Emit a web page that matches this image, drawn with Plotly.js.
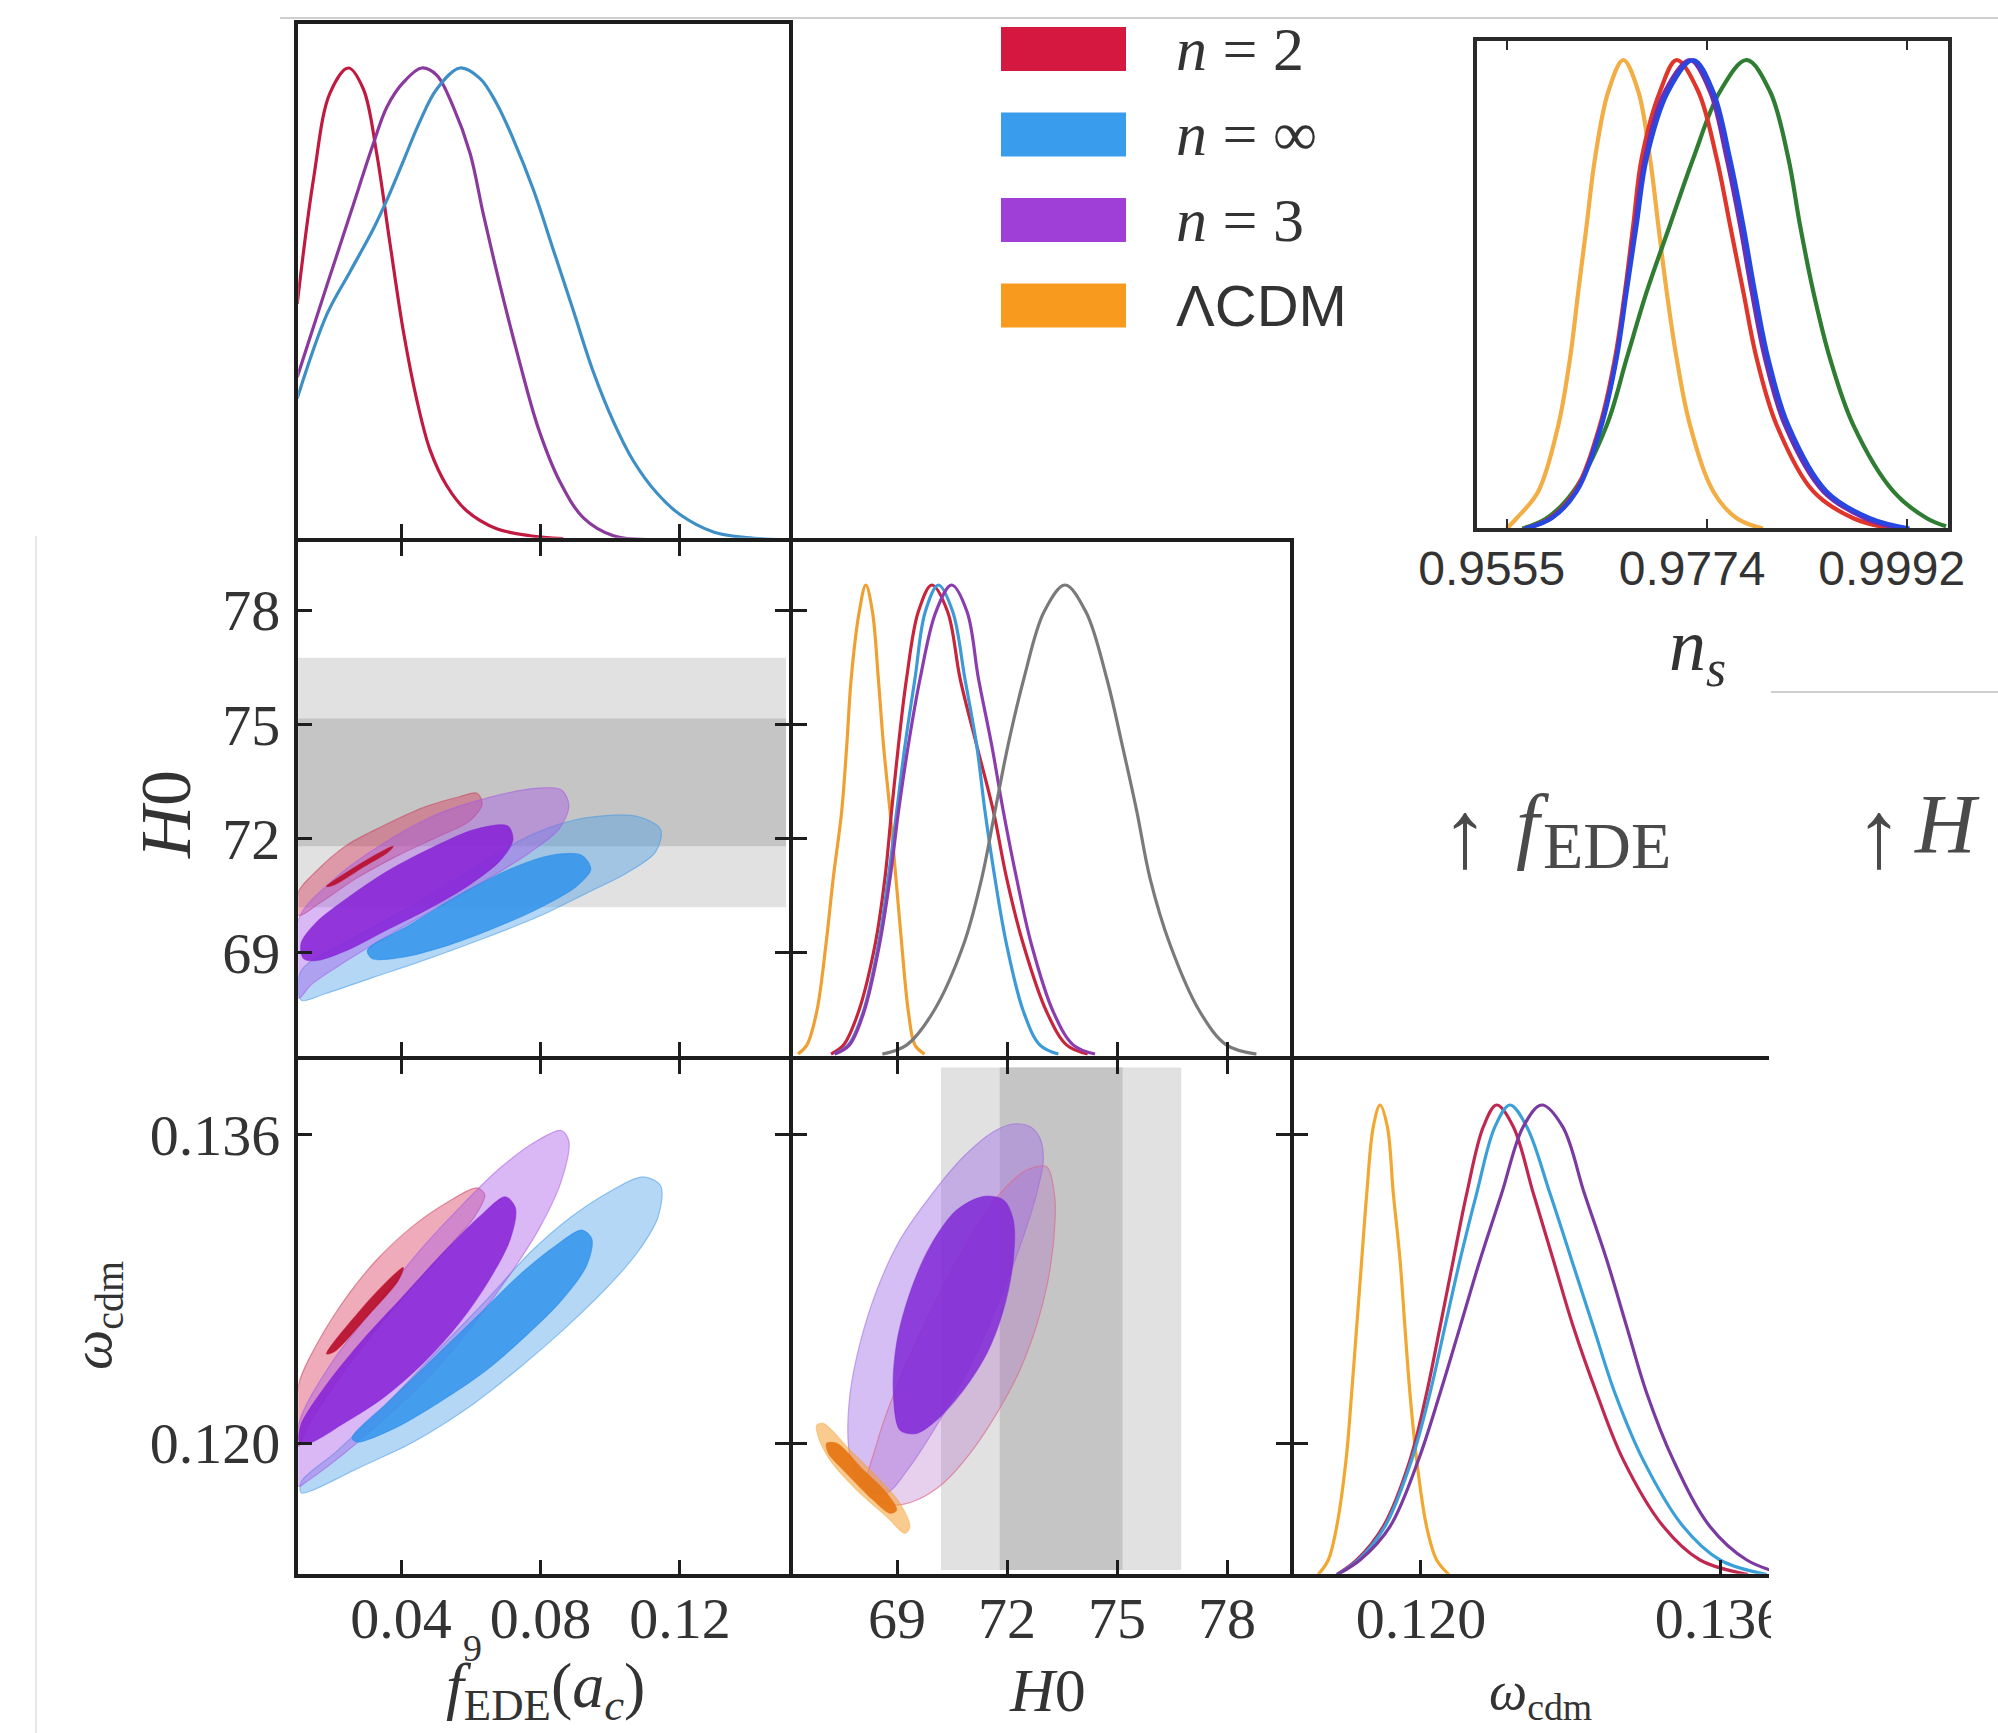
<!DOCTYPE html>
<html>
<head>
<meta charset="utf-8">
<script src="https://cdn.plot.ly/plotly-3.0.1.min.js"></script>
<style>
html,body{margin:0;padding:0;background:#ffffff;}
#chart{width:1998px;height:1733px;}
</style>
</head>
<body>
<div id="chart"></div>
<script>
// ---------------- DATA ----------------
const fedeTicks = [0.04, 0.08, 0.12];
const fedeTickText = ['0.04', '0.08', '0.12'];
const h0Ticks = [69, 72, 75, 78];
const h0TickText = ['69', '72', '75', '78'];
const wTicks = [0.120, 0.136];
const wTickText = ['0.120', '0.136'];
const nsTicks = [0.9555, 0.9774, 0.9992];
const nsTickText = ['0.9555', '0.9774', '0.9992'];

const legendLabels = ['<i>n</i> = 2', '<i>n</i> = ∞', '<i>n</i> = 3', 'ΛCDM'];
const legendColors = ['#d4183f', '#3a9cec', '#a03fd8', '#f89a1e'];

// SH0ES H0 bands (1 and 2 sigma) and the extent over which they are drawn
const shoesInner = [71.8, 75.15];
const shoesOuter = [70.2, 76.75];
const bandFede = [0.0098, 0.1504];
const bandWcdm = [0.1134, 0.1395];

// 1D posterior of f_EDE (top-left)
const fede_n2_x = [0.0102, 0.0149, 0.0196, 0.0249, 0.0292, 0.0330, 0.0368, 0.0407, 0.0445, 0.0483, 0.0531, 0.0588, 0.0674, 0.0770, 0.0865];
const fede_n2_p = [0.500, 0.766, 0.947, 1.0, 0.955, 0.819, 0.629, 0.440, 0.297, 0.191, 0.115, 0.062, 0.024, 0.009, 0.003];
const fede_n3_x = [0.0102, 0.0187, 0.0254, 0.0321, 0.0359, 0.0407, 0.0459, 0.0502, 0.0550, 0.0598, 0.0636, 0.0684, 0.0736, 0.0794, 0.0856, 0.0923, 0.1009, 0.1104];
const fede_n3_p = [0.345, 0.539, 0.690, 0.841, 0.917, 0.970, 1.0, 0.985, 0.917, 0.819, 0.690, 0.539, 0.388, 0.236, 0.123, 0.047, 0.009, 0.001];
const fede_ninf_x = [0.0102, 0.0187, 0.0254, 0.0321, 0.0359, 0.0407, 0.0454, 0.0502, 0.0569, 0.0626, 0.0674, 0.0722, 0.0779, 0.0837, 0.0894, 0.0951, 0.1009, 0.1066, 0.1133, 0.1200, 0.1296, 0.1391, 0.1487];
const fede_ninf_p = [0.300, 0.478, 0.569, 0.660, 0.720, 0.804, 0.887, 0.955, 1.0, 0.978, 0.925, 0.849, 0.743, 0.614, 0.486, 0.357, 0.251, 0.168, 0.100, 0.054, 0.017, 0.005, 0.001];

// 2D: H0 vs f_EDE (middle-left)
const hf_n2_outer_f = [0.01061, 0.01572, 0.02449, 0.03475, 0.04645, 0.05669, 0.06179, 0.06325, 0.05961, 0.05084, 0.03914, 0.02741, 0.01718, 0.01061];
const hf_n2_outer_h = [70.61, 71.15, 71.83, 72.33, 72.82, 73.10, 73.19, 72.91, 72.46, 72.06, 71.56, 70.97, 70.34, 69.98];
const hf_n2_inner_f = [0.01864, 0.02595, 0.03329, 0.03768, 0.03622, 0.02888, 0.02085];
const hf_n2_inner_h = [70.75, 71.20, 71.60, 71.80, 71.65, 71.24, 70.79];
const hf_n3_outer_f = [0.01061, 0.0201, 0.03329, 0.04937, 0.064, 0.07862, 0.08593, 0.08814, 0.08521, 0.07716, 0.06546, 0.0523, 0.03768, 0.02449, 0.01425, 0.01061];
const hf_n3_outer_h = [69.89, 70.88, 71.78, 72.60, 73.05, 73.32, 73.28, 72.87, 72.24, 71.65, 70.97, 70.29, 69.53, 68.80, 68.17, 67.81];
const hf_n3_inner_f = [0.01133, 0.01572, 0.02449, 0.03622, 0.04937, 0.06107, 0.07059, 0.07205, 0.06838, 0.05961, 0.04791, 0.03622, 0.02449, 0.01572, 0.01207];
const hf_n3_inner_h = [69.25, 69.80, 70.43, 71.15, 71.78, 72.24, 72.33, 71.97, 71.42, 70.79, 70.16, 69.62, 69.07, 68.80, 68.85];
const hf_ninf_outer_f = [0.01133, 0.02741, 0.04499, 0.064, 0.07862, 0.09324, 0.10789, 0.11446, 0.113, 0.10497, 0.09324, 0.08008, 0.064, 0.04791, 0.0318, 0.01864, 0.01133];
const hf_ninf_outer_h = [68.53, 69.44, 70.34, 71.42, 72.15, 72.55, 72.58, 72.24, 71.65, 71.11, 70.57, 69.98, 69.39, 68.85, 68.35, 67.94, 67.76];
const hf_ninf_inner_f = [0.03034, 0.04206, 0.05669, 0.07131, 0.083, 0.09178, 0.09442, 0.09032, 0.08008, 0.06692, 0.05376, 0.0406, 0.0318];
const hf_ninf_inner_h = [69.07, 69.71, 70.52, 71.20, 71.56, 71.56, 71.20, 70.75, 70.20, 69.66, 69.21, 68.89, 68.85];

// 1D posterior of H0 (centre)
const h0_lcdm_x = [66.30, 66.54, 66.81, 67.06, 67.26, 67.49, 67.63, 67.75, 67.97, 68.15, 68.33, 68.49, 68.63, 68.81, 68.97, 69.13, 69.31, 69.49, 69.75];
const h0_lcdm_p = [0.002, 0.021, 0.092, 0.234, 0.376, 0.518, 0.660, 0.801, 0.943, 1.0, 0.943, 0.801, 0.660, 0.518, 0.376, 0.234, 0.092, 0.021, 0.002];
const h0_n2_x = [67.20, 67.54, 67.95, 68.40, 68.67, 68.85, 69.04, 69.26, 69.58, 69.95, 70.38, 70.72, 71.17, 71.63, 71.99, 72.45, 73.08, 73.63, 74.20];
const h0_n2_p = [0.002, 0.021, 0.092, 0.234, 0.376, 0.518, 0.660, 0.801, 0.943, 1.0, 0.943, 0.801, 0.660, 0.518, 0.376, 0.234, 0.092, 0.021, 0.002];
const h0_ninf_x = [67.30, 67.67, 68.08, 68.49, 68.76, 68.99, 69.22, 69.49, 69.77, 70.13, 70.52, 70.85, 71.17, 71.40, 71.67, 71.99, 72.45, 72.90, 73.40];
const h0_ninf_p = [0.002, 0.021, 0.092, 0.234, 0.376, 0.518, 0.660, 0.801, 0.943, 1.0, 0.943, 0.801, 0.660, 0.518, 0.376, 0.234, 0.092, 0.021, 0.002];
const h0_n3_x = [67.30, 67.70, 68.10, 68.52, 68.81, 69.04, 69.31, 69.63, 70.06, 70.49, 70.91, 71.22, 71.58, 71.90, 72.26, 72.67, 73.26, 73.81, 74.40];
const h0_n3_p = [0.002, 0.021, 0.092, 0.234, 0.376, 0.518, 0.660, 0.801, 0.943, 1.0, 0.943, 0.801, 0.660, 0.518, 0.376, 0.234, 0.092, 0.021, 0.002];
const h0_shoes_x = [68.60, 69.26, 69.99, 70.81, 71.31, 71.67, 72.03, 72.46, 73.01, 73.58, 74.15, 74.72, 75.14, 75.54, 75.90, 76.45, 77.26, 77.99, 78.80];
const h0_shoes_p = [0.002, 0.021, 0.092, 0.234, 0.376, 0.518, 0.660, 0.801, 0.943, 1.0, 0.943, 0.801, 0.660, 0.518, 0.376, 0.234, 0.092, 0.021, 0.002];

// 2D: omega_cdm vs f_EDE (bottom-left)
const wf_n2_outer_f = [0.01061, 0.01572, 0.02449, 0.03329, 0.04353, 0.05376, 0.06179, 0.064, 0.06107, 0.0523, 0.04206, 0.03034, 0.0201, 0.01279, 0.01061];
const wf_n2_outer_w = [0.12303, 0.1251, 0.12762, 0.12957, 0.13129, 0.13256, 0.13325, 0.1329, 0.13175, 0.12992, 0.12785, 0.12532, 0.1228, 0.12073, 0.11982];
const wf_n2_inner_f = [0.01864, 0.02741, 0.03622, 0.0406, 0.03914, 0.03034, 0.02085];
const wf_n2_inner_w = [0.12464, 0.1267, 0.12843, 0.12911, 0.12843, 0.12659, 0.12475];
const wf_n3_outer_f = [0.01061, 0.0201, 0.0318, 0.04499, 0.05669, 0.06838, 0.07862, 0.08593, 0.08814, 0.08593, 0.08008, 0.07131, 0.06107, 0.04937, 0.03622, 0.02303, 0.01279, 0.01061];
const wf_n3_outer_w = [0.12097, 0.12418, 0.12693, 0.12992, 0.13221, 0.13428, 0.13566, 0.13623, 0.13566, 0.13359, 0.13129, 0.12877, 0.12624, 0.12372, 0.12142, 0.11936, 0.11798, 0.11775];
const wf_n3_inner_f = [0.01133, 0.01864, 0.02888, 0.0406, 0.0523, 0.06253, 0.06985, 0.07277, 0.07131, 0.06546, 0.05669, 0.04645, 0.03475, 0.02303, 0.01425, 0.0109];
const wf_n3_inner_w = [0.12097, 0.12303, 0.12532, 0.12762, 0.12992, 0.13175, 0.13278, 0.13221, 0.1306, 0.12854, 0.12624, 0.12418, 0.12234, 0.12097, 0.12005, 0.12005];
const wf_ninf_outer_f = [0.01133, 0.02157, 0.03622, 0.05084, 0.06546, 0.07716, 0.08885, 0.10055, 0.10935, 0.11446, 0.11374, 0.10789, 0.09909, 0.08739, 0.07423, 0.05961, 0.04353, 0.02741, 0.01425, 0.01133];
const wf_ninf_outer_w = [0.11798, 0.11958, 0.12211, 0.12487, 0.12762, 0.12992, 0.13175, 0.13313, 0.13382, 0.13336, 0.13175, 0.12992, 0.12808, 0.12602, 0.12395, 0.12188, 0.12005, 0.11867, 0.11752, 0.11741];
const wf_ninf_inner_f = [0.02595, 0.03622, 0.04937, 0.06253, 0.07423, 0.08447, 0.09178, 0.0947, 0.09324, 0.08593, 0.07569, 0.064, 0.05084, 0.03768, 0.02741];
const wf_ninf_inner_w = [0.12027, 0.12211, 0.1244, 0.1267, 0.12877, 0.13026, 0.13106, 0.1306, 0.12923, 0.12739, 0.12555, 0.12372, 0.12211, 0.12073, 0.12005];

// 2D: omega_cdm vs H0 (bottom-centre)
const wh_n3_outer_h = [67.67, 67.72, 67.99, 68.45, 69.08, 69.90, 70.81, 71.63, 72.17, 72.63, 72.90, 72.99, 72.81, 72.35, 71.72, 70.99, 70.17, 69.35, 68.72, 68.17, 67.81];
const wh_n3_outer_w = [0.11998, 0.12258, 0.12518, 0.12795, 0.13055, 0.1328, 0.13487, 0.13617, 0.13657, 0.13643, 0.13583, 0.1347, 0.13297, 0.1302, 0.12708, 0.12396, 0.12119, 0.11877, 0.11739, 0.11756, 0.1186];
const wh_n2_outer_h = [68.17, 68.45, 68.99, 69.72, 70.45, 71.17, 71.90, 72.54, 73.08, 73.29, 73.31, 73.17, 72.85, 72.35, 71.72, 70.99, 70.26, 69.54, 68.90];
const wh_n2_outer_w = [0.11739, 0.11998, 0.12292, 0.12604, 0.12882, 0.13124, 0.13314, 0.13418, 0.13435, 0.13297, 0.13158, 0.12899, 0.12639, 0.12379, 0.12154, 0.11946, 0.11791, 0.11704, 0.11678];
const wh_n3_inner_h = [69.08, 68.90, 68.99, 69.35, 69.90, 70.63, 71.35, 71.90, 72.17, 72.17, 71.90, 71.45, 70.81, 70.08, 69.54];
const wh_n3_inner_w = [0.12067, 0.12258, 0.12518, 0.12778, 0.1302, 0.1321, 0.1328, 0.13262, 0.13158, 0.12951, 0.12691, 0.12466, 0.12275, 0.12119, 0.1205];
const wh_lcdm_outer_h = [66.81, 66.99, 67.72, 68.45, 69.08, 69.35, 69.22, 68.72, 67.90, 67.17, 66.85];
const wh_lcdm_outer_w = [0.12093, 0.12102, 0.11964, 0.11825, 0.11687, 0.11565, 0.11531, 0.11617, 0.11756, 0.11912, 0.12033];
const wh_lcdm_inner_h = [67.08, 67.36, 68.08, 68.72, 68.99, 68.81, 68.26, 67.54, 67.13];
const wh_lcdm_inner_w = [0.11998, 0.11998, 0.1186, 0.11739, 0.11652, 0.11635, 0.11721, 0.1186, 0.11946];

// 1D posterior of omega_cdm (bottom-right)
const w_lcdm_x = [0.1145, 0.11504, 0.11549, 0.11599, 0.11629, 0.11656, 0.11683, 0.1171, 0.11745, 0.11781, 0.1182, 0.11852, 0.11888, 0.11914, 0.11941, 0.11977, 0.1203, 0.12084, 0.1215];
const w_lcdm_p = [0.003, 0.034, 0.105, 0.246, 0.388, 0.529, 0.671, 0.8125, 0.954, 1.0, 0.954, 0.8125, 0.671, 0.529, 0.388, 0.246, 0.105, 0.034, 0.003];
const w_n2_x = [0.1155, 0.11656, 0.11798, 0.11941, 0.1203, 0.12102, 0.12173, 0.12245, 0.12334, 0.12405, 0.12494, 0.12601, 0.12708, 0.12815, 0.1294, 0.13083, 0.13297, 0.13493, 0.1375];
const w_n2_p = [0.003, 0.034, 0.105, 0.246, 0.388, 0.529, 0.671, 0.8125, 0.954, 1.0, 0.954, 0.8125, 0.671, 0.529, 0.388, 0.246, 0.105, 0.034, 0.003];
const w_ninf_x = [0.1155, 0.11665, 0.11807, 0.1195, 0.12048, 0.12128, 0.12209, 0.12298, 0.12396, 0.12476, 0.12566, 0.1269, 0.12806, 0.12922, 0.13038, 0.13189, 0.13403, 0.136, 0.1385];
const w_ninf_p = [0.003, 0.034, 0.105, 0.246, 0.388, 0.529, 0.671, 0.8125, 0.954, 1.0, 0.954, 0.8125, 0.671, 0.529, 0.388, 0.246, 0.105, 0.034, 0.003];
const w_n3_x = [0.1155, 0.11674, 0.11834, 0.11986, 0.12102, 0.12209, 0.12316, 0.12432, 0.12547, 0.12646, 0.12758, 0.12874, 0.12994, 0.13101, 0.13208, 0.1335, 0.13546, 0.13743, 0.1395];
const w_n3_p = [0.003, 0.034, 0.105, 0.246, 0.388, 0.529, 0.671, 0.8125, 0.954, 1.0, 0.954, 0.8125, 0.671, 0.529, 0.388, 0.246, 0.105, 0.034, 0.003];

// inset: 1D posterior of n_s
const ns_lcdm_x = [0.9555, 0.95659, 0.95895, 0.96114, 0.96242, 0.96332, 0.96424, 0.96515, 0.9666, 0.96824, 0.96988, 0.97116, 0.97206, 0.97298, 0.97407, 0.97553, 0.97807, 0.98063, 0.9835];
const ns_lcdm_p = [0.003, 0.025, 0.082, 0.223, 0.365, 0.507, 0.649, 0.791, 0.933, 1.0, 0.933, 0.791, 0.649, 0.507, 0.365, 0.223, 0.082, 0.025, 0.003];
const ns_n2_x = [0.9575, 0.96023, 0.96296, 0.96569, 0.96733, 0.96842, 0.96933, 0.97025, 0.97225, 0.97407, 0.97643, 0.97844, 0.9799, 0.98135, 0.98281, 0.9850, 0.989, 0.99337, 0.9975];
const ns_n2_p = [0.003, 0.025, 0.082, 0.223, 0.365, 0.507, 0.649, 0.791, 0.933, 1.0, 0.933, 0.791, 0.649, 0.507, 0.365, 0.223, 0.082, 0.025, 0.003];
const ns_n3_x = [0.9575, 0.96031, 0.96307, 0.9658, 0.96744, 0.9685, 0.96952, 0.97061, 0.97279, 0.97553, 0.97771, 0.97953, 0.98099, 0.98227, 0.98372, 0.9859, 0.99009, 0.99464, 0.9985];
const ns_n3_p = [0.003, 0.025, 0.082, 0.223, 0.365, 0.507, 0.649, 0.791, 0.933, 1.0, 0.933, 0.791, 0.649, 0.507, 0.365, 0.223, 0.082, 0.025, 0.003];
const ns_ninf_x = [0.9575, 0.96042, 0.96315, 0.96588, 0.96752, 0.96861, 0.9697, 0.9708, 0.97315, 0.97589, 0.97807, 0.9799, 0.98135, 0.98263, 0.98408, 0.98627, 0.99046, 0.99519, 0.9995];
const ns_ninf_p = [0.003, 0.025, 0.082, 0.223, 0.365, 0.507, 0.649, 0.791, 0.933, 1.0, 0.933, 0.791, 0.649, 0.507, 0.365, 0.223, 0.082, 0.025, 0.003];
const ns_green_x = [0.9572, 0.95987, 0.96278, 0.96643, 0.96861, 0.9708, 0.97334, 0.97589, 0.9788, 0.98172, 0.98427, 0.98627, 0.98754, 0.989, 0.99082, 0.99337, 0.99774, 1.00139, 1.0035];
const ns_green_p = [0.003, 0.025, 0.082, 0.223, 0.365, 0.507, 0.649, 0.791, 0.933, 1.0, 0.933, 0.791, 0.649, 0.507, 0.365, 0.223, 0.082, 0.025, 0.008];

// ---------------- DRAWING ----------------
const W = 1998, H = 1733;
const PX = v => v / W;
const PY = v => 1 - v / H;
const SERIF = 'Liberation Serif, Times New Roman, serif';
const SANS = 'Liberation Sans, Arial, sans-serif';
const INK = '#1d1d1d';
const TXT = '#333333';
const LW = 4.5, HW = LW / 2;

function curve(x, y, xa, ya, color, width) {
  return {type: 'scatter', mode: 'lines', x: x, y: y, xaxis: xa, yaxis: ya,
    line: {color: color, width: width, shape: 'spline', smoothing: 1},
    hoverinfo: 'skip', showlegend: false};
}
function region(x, y, xa, ya, fill, edge) {
  return {type: 'scatter', mode: 'lines', x: x.concat([x[0]]), y: y.concat([y[0]]),
    xaxis: xa, yaxis: ya, fill: 'toself', fillcolor: fill,
    line: {color: edge, width: 1.2, shape: 'spline', smoothing: 0.9},
    hoverinfo: 'skip', showlegend: false};
}
function band(xs, ys, xa, ya, fill) {
  return {type: 'scatter', mode: 'lines',
    x: [xs[0], xs[1], xs[1], xs[0], xs[0]], y: [ys[0], ys[0], ys[1], ys[1], ys[0]],
    xaxis: xa, yaxis: ya, fill: 'toself', fillcolor: fill, line: {width: 0},
    hoverinfo: 'skip', showlegend: false};
}

const C = {
  redOut: 'rgba(215,45,80,0.40)', redIn: 'rgba(185,15,45,0.92)',
  purOut: 'rgba(165,85,230,0.42)', purIn: 'rgba(135,35,215,0.88)',
  bluOut: 'rgba(70,155,232,0.40)', bluIn: 'rgba(50,148,235,0.86)',
  oraOut: 'rgba(245,160,50,0.55)', oraIn: 'rgba(230,115,15,0.9)',
  grayOut: '#e1e1e1', grayIn: '#c5c5c5'
};

const traces = [];
traces.push(curve(fede_n2_x, fede_n2_p, 'x', 'y', '#c01a40', 3.2));
traces.push(curve(fede_n3_x, fede_n3_p, 'x', 'y', '#8a3a9c', 3.2));
traces.push(curve(fede_ninf_x, fede_ninf_p, 'x', 'y', '#3d8fc6', 3.2));

traces.push(band(bandFede, shoesOuter, 'x2', 'y2', C.grayOut));
traces.push(band(bandFede, shoesInner, 'x2', 'y2', C.grayIn));
traces.push(region(hf_n2_outer_f, hf_n2_outer_h, 'x2', 'y2', C.redOut, 'rgba(200,60,90,0.5)'));
traces.push(region(hf_ninf_outer_f, hf_ninf_outer_h, 'x2', 'y2', C.bluOut, 'rgba(60,150,230,0.5)'));
traces.push(region(hf_n3_outer_f, hf_n3_outer_h, 'x2', 'y2', C.purOut, 'rgba(165,85,230,0.5)'));
traces.push(region(hf_n2_inner_f, hf_n2_inner_h, 'x2', 'y2', C.redIn, 'rgba(185,15,45,0.6)'));
traces.push(region(hf_ninf_inner_f, hf_ninf_inner_h, 'x2', 'y2', C.bluIn, 'rgba(40,140,235,0.6)'));
traces.push(region(hf_n3_inner_f, hf_n3_inner_h, 'x2', 'y2', C.purIn, 'rgba(135,35,215,0.6)'));

traces.push(curve(h0_lcdm_x, h0_lcdm_p, 'x3', 'y3', '#f0a032', 3.2));
traces.push(curve(h0_n2_x, h0_n2_p, 'x3', 'y3', '#c8243c', 3.2));
traces.push(curve(h0_ninf_x, h0_ninf_p, 'x3', 'y3', '#3c9ad8', 3.2));
traces.push(curve(h0_n3_x, h0_n3_p, 'x3', 'y3', '#8b3db0', 3.2));
traces.push(curve(h0_shoes_x, h0_shoes_p, 'x3', 'y3', '#7a7a7a', 3.2));
traces.push({type: 'scatter', mode: 'lines', x: [], y: [], xaxis: 'x3', yaxis: 'y8', showlegend: false, hoverinfo: 'skip'});

traces.push(region(wf_n2_outer_f, wf_n2_outer_w, 'x4', 'y4', C.redOut, 'rgba(200,60,90,0.5)'));
traces.push(region(wf_ninf_outer_f, wf_ninf_outer_w, 'x4', 'y4', C.bluOut, 'rgba(60,150,230,0.5)'));
traces.push(region(wf_n3_outer_f, wf_n3_outer_w, 'x4', 'y4', C.purOut, 'rgba(165,85,230,0.5)'));
traces.push(region(wf_n2_inner_f, wf_n2_inner_w, 'x4', 'y4', C.redIn, 'rgba(185,15,45,0.6)'));
traces.push(region(wf_ninf_inner_f, wf_ninf_inner_w, 'x4', 'y4', C.bluIn, 'rgba(40,140,235,0.6)'));
traces.push(region(wf_n3_inner_f, wf_n3_inner_w, 'x4', 'y4', C.purIn, 'rgba(135,35,215,0.6)'));

traces.push(band(shoesOuter, bandWcdm, 'x5', 'y5', C.grayOut));
traces.push(band(shoesInner, bandWcdm, 'x5', 'y5', C.grayIn));
traces.push(region(wh_n3_outer_h, wh_n3_outer_w, 'x5', 'y5', 'rgba(160,110,230,0.45)', 'rgba(150,95,225,0.5)'));
traces.push(region(wh_n2_outer_h, wh_n2_outer_w, 'x5', 'y5', 'rgba(175,100,200,0.30)', 'rgba(220,110,140,0.7)'));
traces.push(region(wh_n3_inner_h, wh_n3_inner_w, 'x5', 'y5', 'rgba(128,40,214,0.85)', 'rgba(128,40,214,0.5)'));
traces.push(region(wh_lcdm_outer_h, wh_lcdm_outer_w, 'x5', 'y5', C.oraOut, 'rgba(245,160,50,0.4)'));
traces.push(region(wh_lcdm_inner_h, wh_lcdm_inner_w, 'x5', 'y5', C.oraIn, 'rgba(230,115,15,0.5)'));

traces.push(curve(w_lcdm_x, w_lcdm_p, 'x6', 'y6', '#f0a830', 3.2));
traces.push(curve(w_n2_x, w_n2_p, 'x6', 'y6', '#c02850', 3.2));
traces.push(curve(w_ninf_x, w_ninf_p, 'x6', 'y6', '#3b9fd8', 3.2));
traces.push(curve(w_n3_x, w_n3_p, 'x6', 'y6', '#7a3aa0', 3.2));
traces.push({type: 'scatter', mode: 'lines', x: [], y: [], xaxis: 'x6', yaxis: 'y9', showlegend: false, hoverinfo: 'skip'});

traces.push(curve(ns_lcdm_x, ns_lcdm_p, 'x7', 'y7', '#f3ad45', 4.2));
traces.push(curve(ns_green_x, ns_green_p, 'x7', 'y7', '#2f7d32', 4.2));
traces.push(curve(ns_n2_x, ns_n2_p, 'x7', 'y7', '#e0352a', 4.2));
traces.push(curve(ns_n3_x, ns_n3_p, 'x7', 'y7', '#6a2fb5', 4.2));
traces.push(curve(ns_ninf_x, ns_ninf_p, 'x7', 'y7', '#2647e0', 4.2));

// ---------------- LAYOUT ----------------
const colL = [PX(296 + HW), PX(791 - HW)];
const colM = [PX(791 + HW), PX(1292 - HW)];
const colR = [PX(1292 + HW), PX(1769)];
const row1 = [PY(540 - HW), PY(22 + HW)];
const row2 = [PY(1058 - HW), PY(540 + HW)];
const row3 = [PY(1576 - HW), PY(1058 + HW)];
const fRange = [0.0105, 0.1512];
const h0RangeX = [66.17, 79.71];
const h0RangeY = [66.30, 79.78];
const wRangeY = [0.11321, 0.13988];
const wRangeX = [0.11322, 0.13862];
const nsRange = [0.95223, 1.00374];

function ax(o) {
  return Object.assign({
    showline: true, linecolor: INK, linewidth: LW, zeroline: false, showgrid: false,
    ticks: 'inside', ticklen: 14, tickwidth: 3, tickcolor: INK, tickmode: 'array',
    tickfont: {family: SERIF, size: 58, color: TXT}, fixedrange: true
  }, o);
}

const layout = {
  width: W, height: H,
  margin: {l: 0, r: 0, t: 0, b: 0, pad: 0},
  paper_bgcolor: '#ffffff', plot_bgcolor: 'rgba(0,0,0,0)',
  showlegend: false,
  font: {family: SERIF, color: TXT},
  xaxis: ax({domain: colL, anchor: 'y', range: fRange, tickvals: fedeTicks, showticklabels: false, mirror: true}),
  yaxis: ax({domain: row1, anchor: 'x', range: [0.0048, 1.0927], ticks: '', showticklabels: false, mirror: true}),
  xaxis2: ax({domain: colL, anchor: 'y2', range: fRange, tickvals: fedeTicks, showticklabels: false, mirror: 'ticks'}),
  yaxis2: ax({domain: row2, anchor: 'x2', range: h0RangeY, tickvals: h0Ticks, ticktext: h0TickText, mirror: 'ticks', ticklabelstandoff: 2}),
  xaxis3: ax({domain: colM, anchor: 'y3', range: h0RangeX, tickvals: h0Ticks, showticklabels: false, mirror: true}),
  yaxis3: ax({domain: row2, anchor: 'x3', range: [-0.0016, 1.091], ticks: '', showticklabels: false, mirror: true}),
  yaxis8: ax({overlaying: 'y3', anchor: 'x3', side: 'left', range: h0RangeY, tickvals: h0Ticks, showticklabels: false, showline: false}),
  xaxis4: ax({domain: colL, anchor: 'y4', range: fRange, tickvals: fedeTicks, ticktext: fedeTickText, mirror: 'ticks', ticklabelstandoff: -10}),
  yaxis4: ax({domain: row3, anchor: 'x4', range: wRangeY, tickvals: wTicks, ticktext: wTickText, mirror: 'ticks', ticklabelstandoff: 2}),
  xaxis5: ax({domain: colM, anchor: 'y5', range: h0RangeX, tickvals: h0Ticks, ticktext: h0TickText, mirror: 'ticks', ticklabelstandoff: -10}),
  yaxis5: ax({domain: row3, anchor: 'x5', range: wRangeY, tickvals: wTicks, showticklabels: false, mirror: 'ticks'}),
  xaxis6: ax({domain: colR, anchor: 'y6', range: wRangeX, tickvals: wTicks, ticktext: wTickText, mirror: true, ticklabelstandoff: -10}),
  yaxis6: ax({domain: row3, anchor: 'x6', range: [0.0048, 1.095], ticks: '', showticklabels: false, mirror: false}),
  yaxis9: ax({overlaying: 'y6', anchor: 'x6', side: 'left', range: wRangeY, tickvals: wTicks, showticklabels: false, showline: false}),
  xaxis7: ax({domain: [PX(1476.75), PX(1948.25)], anchor: 'y7', range: nsRange, tickvals: nsTicks, ticktext: nsTickText,
    mirror: 'ticks', linewidth: 3.5, linecolor: '#2a2a2a', ticklen: 9, tickwidth: 2, tickcolor: '#2a2a2a',
    tickfont: {family: SANS, size: 48, color: TXT}, ticklabelstandoff: -4, ticklabelshift: -15}),
  yaxis7: ax({domain: [PY(528.25), PY(40.75)], anchor: 'x7', range: [0.0037, 1.041], ticks: '', showticklabels: false,
    mirror: true, linewidth: 3.5, linecolor: '#2a2a2a'}),
  shapes: [],
  annotations: []
};

// collage decorations: separator lines and the cropped right margin
layout.shapes.push({type: 'rect', xref: 'paper', yref: 'paper', x0: PX(1771), x1: 1, y0: 0, y1: PY(694), fillcolor: '#ffffff', line: {width: 0}, layer: 'above'});
layout.shapes.push({type: 'line', xref: 'paper', yref: 'paper', x0: PX(280), x1: 1, y0: PY(18), y1: PY(18), line: {color: '#cfcfcf', width: 2}});
layout.shapes.push({type: 'line', xref: 'paper', yref: 'paper', x0: PX(1771), x1: 1, y0: PY(692), y1: PY(692), line: {color: '#cfcfcf', width: 2}});
layout.shapes.push({type: 'line', xref: 'paper', yref: 'paper', x0: PX(36), x1: PX(36), y0: PY(536), y1: 0, line: {color: '#e6e6e6', width: 2}});

// legend swatches + labels
legendLabels.forEach((lab, i) => {
  const yc = 49 + i * 85.5;
  layout.shapes.push({type: 'rect', xref: 'paper', yref: 'paper', x0: PX(1001), x1: PX(1126), y0: PY(yc + 22), y1: PY(yc - 22),
    fillcolor: legendColors[i], line: {width: 0}});
  layout.annotations.push({xref: 'paper', yref: 'paper', x: PX(1174), y: PY(yc), xanchor: 'left', yanchor: 'middle',
    text: lab, showarrow: false,
    font: {family: i === 3 ? SANS : SERIF, size: i === 3 ? 58 : 62, color: TXT}});
});

function note(text, x, y, size, opts) {
  layout.annotations.push(Object.assign({xref: 'paper', yref: 'paper', x: PX(x), y: PY(y), text: text,
    showarrow: false, xanchor: 'center', yanchor: 'middle',
    font: {family: SERIF, size: size, color: TXT}}, opts || {}));
}
note('<i>f</i><sub>EDE</sub>(<i>a</i><sub><i>c</i></sub>)', 545, 1690, 64);
note('<i>H</i>0', 1047, 1690, 62);
note('<i>ω</i><sub>cdm</sub>', 1540, 1694, 54);
note('<i>H</i>0', 166, 815, 72, {textangle: -90});
note('<i>ω</i><sub>cdm</sub>', 96, 1316, 57, {textangle: -90});
note('<i>n</i><sub><i>s</i></sub>', 1697, 650, 74);
note('9', 472, 1648, 38);
const GREY = '#4a4a4a';
note('↑', 1465, 835, 96, {font: {family: SERIF, size: 96, color: GREY}});
note('<i>f</i>', 1514, 824, 84, {xanchor: 'left', font: {family: SERIF, size: 84, color: GREY}});
note('EDE', 1541, 845, 66, {xanchor: 'left', font: {family: SERIF, size: 66, color: GREY}});
note('↑', 1879, 835, 96, {font: {family: SERIF, size: 96, color: GREY}});
note('<i>H</i>', 1912, 824, 84, {xanchor: 'left', font: {family: SERIF, size: 84, color: GREY}});

Plotly.newPlot('chart', traces, layout, {displayModeBar: false, staticPlot: true});
</script>
</body>
</html>
